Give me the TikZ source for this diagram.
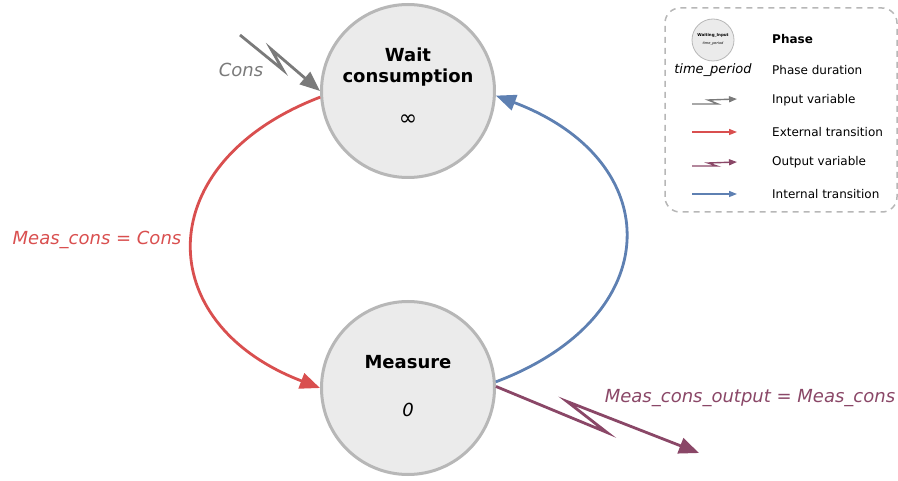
\documentclass[tikz,border=0pt]{standalone}
\usepackage{fontspec}
\setmainfont{DejaVu Sans}
\usetikzlibrary{arrows.meta,calc,positioning}
\definecolor{relleno}{HTML}{EBEBEB}
\definecolor{borde}{HTML}{B7B7B7}
\definecolor{rojo}{HTML}{D94F4F}
\definecolor{azul}{HTML}{5E80B2}
\definecolor{morado}{HTML}{8A4767}
\definecolor{gris}{HTML}{7A7A7A}
\newcommand{\fsz}[2][1.2]{\fontsize{#2}{#1\dimexpr#2pt\relax}\selectfont}

\begin{document}
\begin{tikzpicture}[x=1pt, y=1pt, >={Triangle[length=20pt, width=16pt]},
      phase/.style={circle, draw=borde, line width=3pt, fill=relleno, minimum size=173pt, inner sep=0pt},
      phasename/.style={align=center, font=\fsz{18}\bfseries, inner sep=0pt},
      phasetime/.style={font=\fsz{18}\itshape, inner sep=0pt},
      trans/.style={->, line width=2.8pt},
      varlabel/.style={font=\fsz{18}\itshape, inner sep=0pt},
      legtext/.style={anchor=west, font=\fsz{12}, inner sep=0pt},
      legarrow/.style={-{Triangle[length=8pt, width=6pt]}, line width=1.4pt}]
    \useasboundingbox (0,0) rectangle (898,480);

    % phases
    \node[phase] (wait) at (408,389) {};
    \node[phasename] (waitname) at ([yshift=24pt]wait.center) {Wait\\consumption};
    \node[font=\fsz{22}, inner sep=0pt] (waittime) at ([yshift=-29pt]wait.center) {∞};

    \node[phase] (measure) at (408,92) {};
    \node[phasename] (measurename) at ([yshift=26pt]measure.center) {Measure};
    \node[phasetime] (measuretime) at ([yshift=-22pt]measure.center) {0};

    % transitions
    \draw[trans, rojo] (wait.184) .. controls +(-170,-65) and +(-170,65) .. (measure.180);
    \draw[trans, azul] (measure.4) .. controls +(172,65) and +(172,-65) .. (wait.357);

    % input and output
    \coordinate (consin) at (240,445);
    \draw[trans, gris] (consin) -- ++(43,-35) -- ++(-12,21) -- (wait.180);
    \coordinate (measout) at (699,27);
    \draw[trans, morado] (measure.1) -- ++(111,-46) -- ++(-40,31) -- (measout);

    \node[varlabel, text=gris] (conslabel) at (241,410) {Cons};
    \node[varlabel, text=rojo] (extlabel) at (97,240) {Meas\_cons = Cons};
    \node[varlabel, text=morado] (outlabel) at (750,82) {Meas\_cons\_output = Meas\_cons};

    % legend
    \draw[borde, line width=1.5pt, dash pattern=on 6pt off 5pt, rounded corners=15pt] (665,268) rectangle (897,472);
    \node[phase, minimum size=42pt, line width=0.8pt] (legphase) at (713,440) {};
    \node[font=\fsz{4}\bfseries, inner sep=0pt] (legname) at ([yshift=5pt]legphase.center) {Waiting\_Input};
    \node[font=\fsz{3.5}\itshape, inner sep=0pt] (legtime) at ([yshift=-4pt]legphase.center) {time\_period};
    \node[font=\fsz{13}\itshape, inner sep=0pt] (legdur) at (713,410) {time\_period};

    \node[legtext, font=\fsz{12}\bfseries] (tphase) at (772,441) {Phase};
    \node[legtext] (tdur) at (772,410) {Phase duration};
    \node[legtext] (tin) at (772,380) {Input variable};
    \node[legtext] (text) at (772,348) {External transition};
    \node[legtext] (tout) at (772,318) {Output variable};
    \node[legtext] (tint) at (772,286) {Internal transition};

    \coordinate (inA) at (692,376);  \coordinate (inB) at (737,381);
    \coordinate (extA) at (692,348); \coordinate (extB) at (737,348);
    \coordinate (outA) at (692,314); \coordinate (outB) at (737,318);
    \coordinate (intA) at (692,286); \coordinate (intB) at (737,286);
    \draw[legarrow, gris] (inA) -- ++(26,0) -- ++(-10,4) -- (inB);
    \draw[legarrow, rojo] (extA) -- (extB);
    \draw[legarrow, morado] (outA) -- ++(25,0) -- ++(-9,3) -- (outB);
    \draw[legarrow, azul] (intA) -- (intB);
  \end{tikzpicture}
\end{document}
